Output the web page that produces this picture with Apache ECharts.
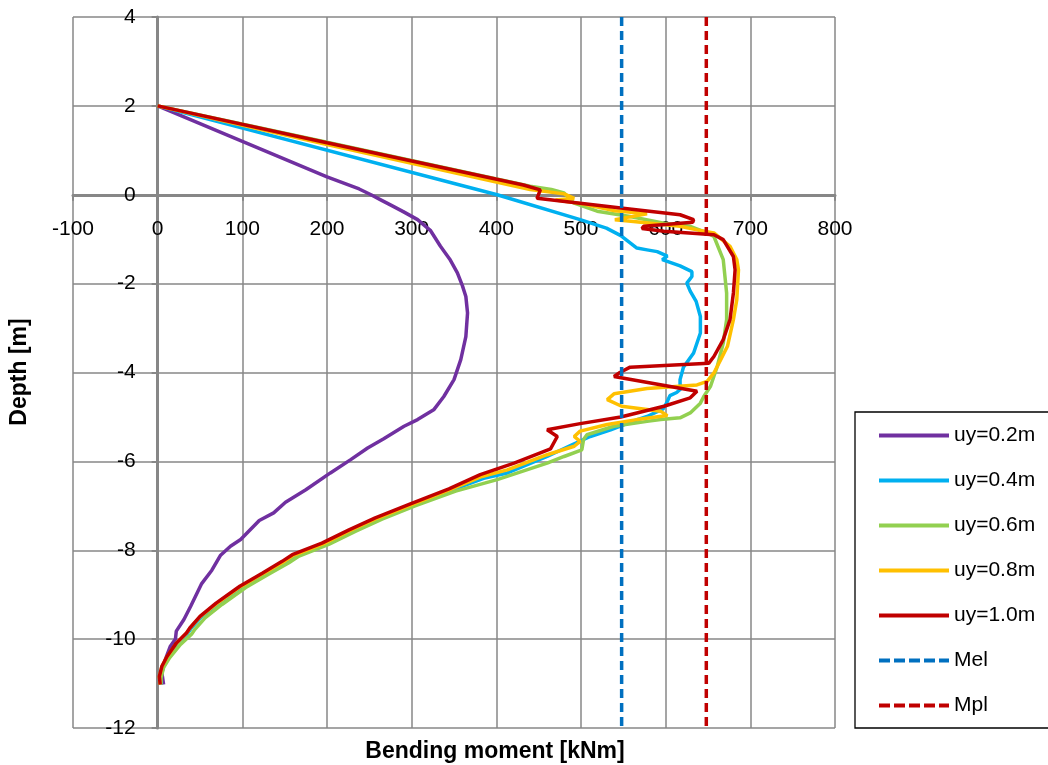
<!DOCTYPE html>
<html>
<head>
<meta charset="utf-8">
<script src="https://cdn.jsdelivr.net/npm/echarts@6/dist/echarts.min.js"></script>
<style>
html,body{margin:0;padding:0;background:#fff;}
#chart{width:1048px;height:765px;}
</style>
</head>
<body>
<div id="chart"></div>
<script>
// Data: [bending moment (kNm), depth (m)]
var seriesNames = ['uy=0.2m', 'uy=0.4m', 'uy=0.6m', 'uy=0.8m', 'uy=1.0m', 'Mel', 'Mpl'];

var uy02 = [[0,2],[100,1.2],[200,0.4],[238,0.13],[252,0.0],[264,-0.12],[276,-0.24],[290,-0.38],[307,-0.56],[322,-0.8],[334,-1.16],[345,-1.45],[354,-1.76],[360,-2.05],[364,-2.29],[366,-2.66],[364,-3.19],[358,-3.71],[350,-4.16],[338,-4.54],[326,-4.84],[307,-5.06],[291,-5.21],[267,-5.49],[248,-5.70],[228,-5.96],[204,-6.26],[175,-6.64],[151,-6.92],[137,-7.16],[120,-7.33],[98,-7.76],[86,-7.91],[74,-8.12],[64,-8.45],[52,-8.75],[39,-9.26],[31,-9.56],[22,-9.82],[21,-10.0],[15,-10.16],[9,-10.46],[5,-10.76],[7,-11.02]];

var uy04 = [[0,2],[401,0],[499,-0.56],[530,-0.75],[547,-0.92],[566,-1.2],[578,-1.24],[590,-1.28],[602,-1.38],[596,-1.46],[617,-1.6],[631,-1.73],[631,-1.84],[625,-1.99],[629,-2.17],[636,-2.4],[641,-2.74],[641,-3.11],[633,-3.56],[621,-3.88],[617,-4.16],[617,-4.26],[619,-4.35],[613,-4.45],[605,-4.52],[601,-4.69],[597,-4.82],[578,-4.99],[558,-5.12],[535,-5.29],[511,-5.44],[490,-5.62],[460,-5.89],[413,-6.26],[385,-6.38],[348,-6.64],[300,-6.99],[260,-7.29],[229,-7.56],[197,-7.86],[162,-8.12],[150,-8.27],[126,-8.53],[99,-8.83],[71,-9.21],[51,-9.51],[39,-9.77],[35,-9.88],[23,-10.1],[12,-10.4],[6,-10.62],[3,-10.85],[4,-11.02]];

var uy06 = [[0,2],[200,1.18],[440,0.19],[465,0.12],[480,0.04],[492,-0.19],[519,-0.37],[558,-0.49],[598,-0.64],[629,-0.71],[649,-0.86],[657,-0.94],[668,-1.46],[672,-2.21],[672,-2.81],[668,-3.34],[661,-3.86],[653,-4.31],[645,-4.54],[641,-4.69],[629,-4.91],[617,-5.02],[594,-5.06],[578,-5.10],[539,-5.21],[507,-5.40],[503,-5.51],[501,-5.74],[480,-5.89],[460,-6.04],[401,-6.41],[352,-6.67],[304,-7.0],[265,-7.3],[234,-7.57],[202,-7.87],[167,-8.13],[155,-8.28],[131,-8.54],[104,-8.84],[76,-9.22],[56,-9.52],[44,-9.78],[40,-9.89],[27,-10.12],[14,-10.42],[7,-10.64],[4,-10.87],[4,-11.02]];

var uy08 = [[0,2],[200,1.13],[440,0.12],[480,0.02],[492,-0.08],[470,-0.12],[500,-0.2],[540,-0.36],[578,-0.43],[540,-0.56],[562,-0.6],[617,-0.71],[637,-0.79],[657,-0.86],[676,-1.16],[684,-1.46],[686,-1.69],[684,-2.36],[680,-2.81],[673,-3.41],[665,-3.71],[657,-4.01],[649,-4.2],[637,-4.28],[578,-4.36],[539,-4.48],[531,-4.61],[548,-4.76],[594,-4.87],[602,-4.97],[566,-5.06],[531,-5.17],[499,-5.32],[492,-5.44],[499,-5.55],[492,-5.66],[460,-5.85],[413,-6.19],[383,-6.34],[346,-6.63],[299,-6.98],[259,-7.28],[228,-7.55],[196,-7.85],[161,-8.11],[149,-8.26],[125,-8.52],[98,-8.82],[70,-9.2],[50,-9.5],[38,-9.76],[34,-9.87],[22,-10.1],[11,-10.4],[5,-10.62],[2,-10.85],[3,-11.02]];

var uy10 = [[0,2],[200,1.17],[432,0.22],[452,0.11],[448,-0.08],[499,-0.19],[547,-0.3],[617,-0.45],[633,-0.56],[632,-0.62],[574,-0.71],[572,-0.76],[598,-0.82],[657,-0.9],[668,-1.01],[680,-1.39],[682,-1.69],[680,-2.21],[676,-2.81],[668,-3.26],[657,-3.64],[651,-3.79],[558,-3.88],[546,-4.0],[539,-4.09],[637,-4.42],[629,-4.57],[598,-4.76],[547,-5.0],[499,-5.15],[460,-5.29],[472,-5.44],[464,-5.72],[421,-6.04],[381,-6.30],[344,-6.62],[297,-6.97],[257,-7.27],[226,-7.54],[194,-7.84],[159,-8.1],[147,-8.25],[124,-8.51],[97,-8.81],[69,-9.19],[50,-9.49],[38,-9.75],[34,-9.86],[22,-10.09],[11,-10.39],[5,-10.61],[2,-10.84],[3,-11.02]];

var melValue = 548;
var mplValue = 648;
var depthRange = [4, -12];

var xTicks = {min: -100, max: 800, interval: 100};
var yTicks = {min: -12, max: 4, interval: 2};

var colors = ['#7030A0', '#00B0F0', '#92D050', '#FFC000', '#C00000', '#0070C0', '#C00000'];

var FONT = 'Liberation Sans';
var GRIDC = '#878787';

// grid geometry
var G = {left: 73, top: 17, right: 213, bottom: 37};
var W = 1048, H = 765;
var gw = W - G.left - G.right, gh = H - G.top - G.bottom;
// place axis lines at the zero of the other axis (via offset)
var yAxisOffset = -gw * (0 - xTicks.min) / (xTicks.max - xTicks.min);
var xAxisOffset = -gh * (0 - yTicks.min) / (yTicks.max - yTicks.min);

var curves = [uy02, uy04, uy06, uy08, uy10];
var series = curves.map(function (d, i) {
  return {
    name: seriesNames[i], type: 'line', data: d, symbol: 'none',
    lineStyle: {width: 3.5, color: colors[i]}, itemStyle: {color: colors[i]},
    z: 2 + i
  };
});
[melValue, mplValue].forEach(function (v, k) {
  var i = 5 + k;
  series.push({
    name: seriesNames[i], type: 'line', symbol: 'none',
    data: depthRange.map(function (y) { return [v, y]; }),
    lineStyle: {width: 3.5, color: colors[i], type: [9, 5]}, itemStyle: {color: colors[i]},
    z: 10
  });
});

var legendData = seriesNames.map(function (n, i) {
  return i < 5 ? {name: n} : {name: n, lineStyle: {type: [11, 4], width: 4}};
});

var chart = echarts.init(document.getElementById('chart'), null, {renderer: 'canvas'});
chart.setOption({
  animation: false,
  backgroundColor: '#fff',
  textStyle: {fontFamily: FONT},
  grid: {left: G.left, top: G.top, right: G.right, bottom: G.bottom, containLabel: false},
  xAxis: {
    type: 'value', min: xTicks.min, max: xTicks.max, interval: xTicks.interval,
    position: 'bottom', offset: xAxisOffset,
    axisLine: {show: true, onZero: false, lineStyle: {color: GRIDC, width: 3}},
    axisTick: {show: true, length: 6, lineStyle: {color: GRIDC, width: 2}},
    axisLabel: {color: '#000', fontSize: 21, fontFamily: FONT, margin: 24},
    splitLine: {show: true, lineStyle: {color: GRIDC, width: 1.5}}
  },
  yAxis: {
    type: 'value', min: yTicks.min, max: yTicks.max, interval: yTicks.interval,
    position: 'left', offset: yAxisOffset,
    axisLine: {show: true, onZero: false, lineStyle: {color: GRIDC, width: 3}},
    axisTick: {show: true, length: 6, lineStyle: {color: GRIDC, width: 2}},
    axisLabel: {color: '#000', fontSize: 21, fontFamily: FONT, margin: 22},
    splitLine: {show: true, lineStyle: {color: GRIDC, width: 1.5}}
  },
  legend: {
    orient: 'vertical', left: 855, top: 412,
    padding: [13, 60, 12, 22],
    itemWidth: 70, itemHeight: 21, itemGap: 24,
    borderColor: '#000', borderWidth: 1.3,
    itemStyle: {opacity: 0},
    lineStyle: {width: 4},
    textStyle: {color: '#000', fontSize: 21, fontFamily: FONT},
    data: legendData
  },
  graphic: [
    {type: 'text', rotation: Math.PI / 2, x: 20, y: 372,
      style: {text: 'Depth [m]', font: 'bold 23px "Liberation Sans"', fill: '#000', align: 'center', verticalAlign: 'middle'}},
    {type: 'text', x: 495, y: 752,
      style: {text: 'Bending moment [kNm]', font: 'bold 23px "Liberation Sans"', fill: '#000', align: 'center', verticalAlign: 'middle'}}
  ],
  series: series
});
</script>
</body>
</html>
